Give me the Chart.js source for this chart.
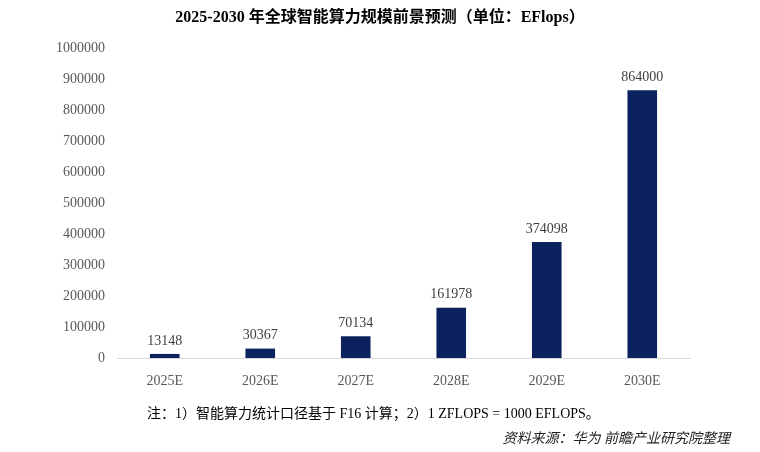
<!DOCTYPE html>
<html><head><meta charset="utf-8">
<script src="https://cdn.jsdelivr.net/npm/chart.js@4.4.0/dist/chart.umd.min.js"></script>
<style>
html,body{margin:0;padding:0;background:#fff;}
#wrap{position:relative;width:760px;height:452px;overflow:hidden;}
canvas{position:absolute;left:0;top:0;}
.t{position:absolute;white-space:nowrap;font-family:"Liberation Serif","Noto Sans CJK SC",serif;}
</style></head><body>
<div id="wrap">
<canvas id="c" width="760" height="452"></canvas>
<div class="t" id="title" style="left:0;width:760px;text-align:center;top:3px;font-size:16px;font-weight:bold;color:#000;">2025-2030 年全球智能算力规模前景预测（单位：EFlops）</div>
<div class="t" style="left:147px;top:402px;font-size:14px;color:#000;">注：1）智能算力统计口径基于 F16 计算；2）1 ZFLOPS = 1000 EFLOPS。</div>
<div class="t" style="right:30px;top:427px;font-size:14px;color:#222;font-style:italic;">资料来源：华为 前瞻产业研究院整理</div>
</div>
<script>
const categories = ["2025E","2026E","2027E","2028E","2029E","2030E"];
const values = [13148, 30367, 70134, 161978, 374098, 864000];
const yMax = 1000000;
const yStep = 100000;

const labelPlugin = {
  id:'vals',
  afterDatasetsDraw(chart){
    const ctx = chart.ctx;
    const meta = chart.getDatasetMeta(0);
    ctx.save();
    ctx.font = '14px "Liberation Serif", serif';
    ctx.fillStyle = '#404040';
    ctx.textAlign = 'center';
    ctx.textBaseline = 'bottom';
    meta.data.forEach((el,i)=>{
      ctx.fillText(String(values[i]), el.x, el.y - 6);
    });
    ctx.restore();
  }
};

new Chart(document.getElementById('c'), {
  type:'bar',
  data:{labels:categories,datasets:[{data:values,backgroundColor:'#0c225e',barPercentage:0.62,categoryPercentage:0.5}]},
  options:{
    responsive:false,animation:false,
    layout:{padding:{left:0,right:70,top:48,bottom:0}},
    plugins:{legend:{display:false},tooltip:{enabled:false}},
    scales:{
      x:{
        grid:{display:false},
        border:{color:'#d9d9d9',width:1},
        ticks:{color:'#595959',font:{family:'"Liberation Serif", serif',size:14},padding:7},
        afterFit(s){s.height=94;}
      },
      y:{
        min:0,max:yMax,
        grid:{display:false},
        border:{display:false},
        ticks:{stepSize:yStep,color:'#595959',font:{family:'"Liberation Serif", serif',size:14},padding:4,
          callback:(v)=>String(v)},
        afterFit(s){s.width=117;}
      }
    }
  },
  plugins:[labelPlugin]
});
</script>
</body></html>
